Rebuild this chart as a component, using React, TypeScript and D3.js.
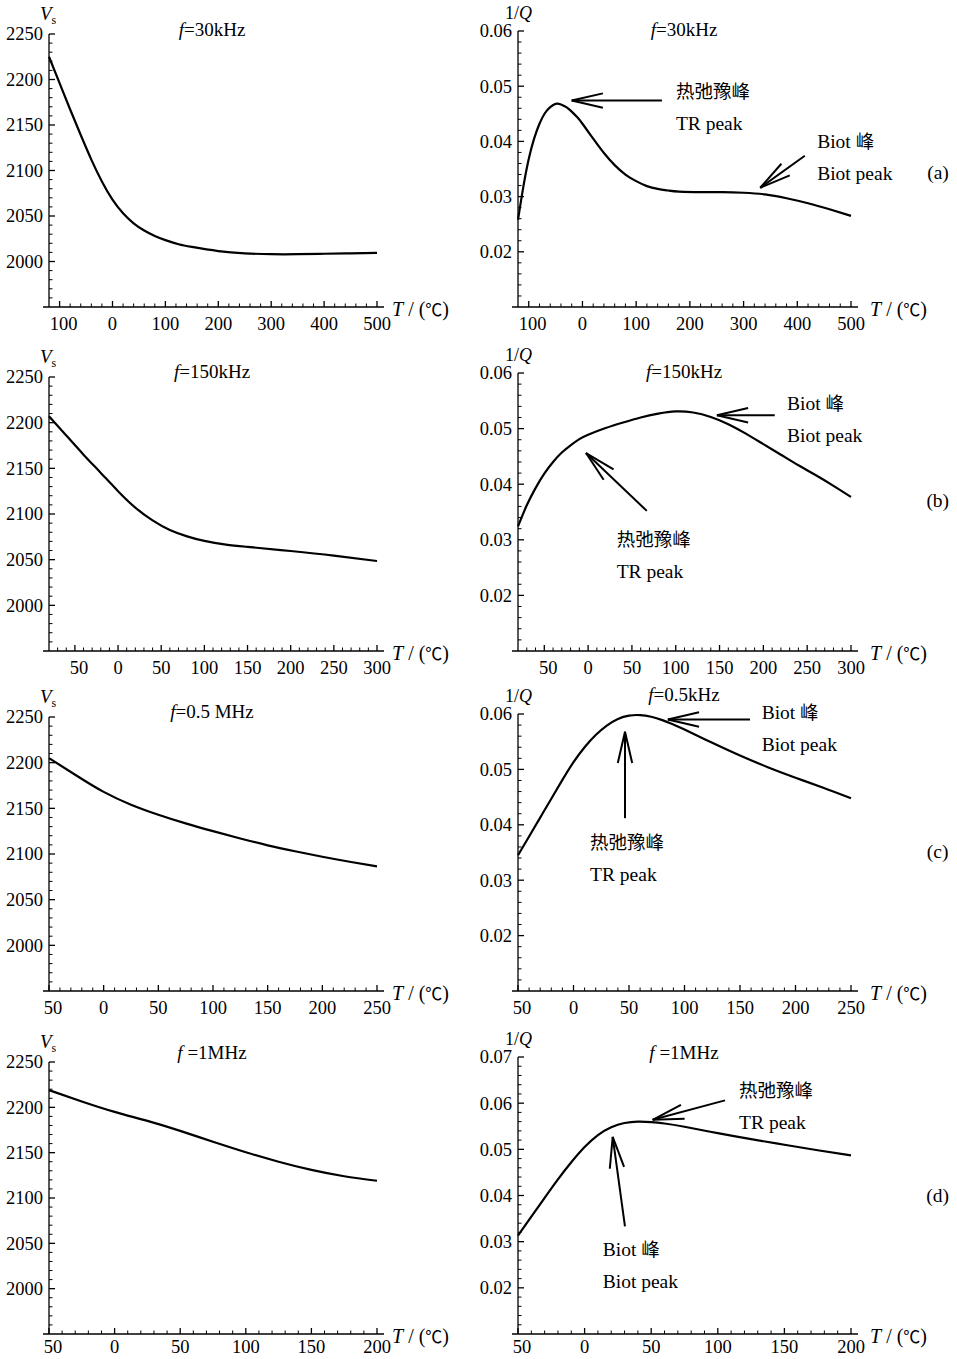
import React from 'react';
import * as d3 from 'd3';

// ---- data (temperature in °C) ----
const tempVsA = [-120, -100, -80, -60, -40, -20, 0, 20, 40, 60, 80, 100, 125, 150, 200, 250, 300, 350, 400, 450, 500];
const vsA = [2225, 2196, 2167, 2139, 2112, 2088, 2068, 2053, 2042, 2034, 2028, 2023.5, 2019, 2016, 2011.5, 2009, 2008, 2008, 2008.5, 2009, 2009.5];
const tempQA = [-120, -110, -100, -90, -80, -70, -60, -50, -40, -30, -20, -10, 0, 20, 40, 60, 80, 100, 120, 140, 160, 180, 220, 260, 300, 340, 380, 420, 460, 500];
const qA = [0.0258, 0.0318, 0.0368, 0.0405, 0.0432, 0.0451, 0.0462, 0.0468, 0.0467, 0.0462, 0.0454, 0.0444, 0.0432, 0.0405, 0.0379, 0.0357, 0.034, 0.0328, 0.0319, 0.0314, 0.0311, 0.0309, 0.0308, 0.0308, 0.0307, 0.0304, 0.0297, 0.0288, 0.0277, 0.0265];

const tempVsB = [-80, -60, -40, -20, 0, 20, 40, 60, 80, 100, 125, 150, 200, 250, 300];
const vsB = [2207, 2186, 2165, 2145, 2125, 2107, 2093, 2082.5, 2075.5, 2070.5, 2066.5, 2064, 2059.5, 2054.5, 2048.5];
const tempQB = [-80, -70, -60, -50, -40, -30, -20, -10, 0, 20, 40, 60, 80, 100, 120, 140, 160, 180, 200, 220, 240, 260, 280, 300];
const qB = [0.0324, 0.0362, 0.0393, 0.0419, 0.044, 0.0457, 0.047, 0.0481, 0.0489, 0.0501, 0.0511, 0.052, 0.0527, 0.0531, 0.0529, 0.0521, 0.0508, 0.0491, 0.0472, 0.0453, 0.0434, 0.0416, 0.0397, 0.0377];

const tempVsC = [-50, -25, 0, 25, 50, 75, 100, 125, 150, 175, 200, 225, 250];
const vsC = [2205, 2186, 2168, 2154, 2143, 2133.5, 2125, 2117, 2109.5, 2103, 2097, 2091.5, 2086.5];
const tempQC = [-50, -40, -30, -20, -10, 0, 10, 20, 30, 40, 50, 60, 70, 80, 90, 100, 125, 150, 175, 200, 225, 250];
const qC = [0.0345, 0.0379, 0.0413, 0.0447, 0.0481, 0.0513, 0.054, 0.0562, 0.0579, 0.0591, 0.0597, 0.0598, 0.0595, 0.0589, 0.0581, 0.0572, 0.0548, 0.0525, 0.0504, 0.0485, 0.0467, 0.0448];

const tempVsD = [-50, -25, 0, 25, 50, 75, 100, 125, 150, 175, 200];
const vsD = [2219, 2206.5, 2195, 2185, 2174, 2162, 2150.5, 2140, 2131, 2124, 2119];
const tempQD = [-50, -40, -30, -20, -10, 0, 10, 20, 30, 40, 50, 60, 75, 100, 125, 150, 175, 200];
const qD = [0.0313, 0.0354, 0.0395, 0.0435, 0.0472, 0.0505, 0.0531, 0.0548, 0.0557, 0.056, 0.0559, 0.0556, 0.0549, 0.0535, 0.0522, 0.051, 0.0498, 0.0487];

// ---- ticks ----
const tTicksA = [-100, 0, 100, 200, 300, 400, 500];
const tLabelsA = ['100', '0', '100', '200', '300', '400', '500'];
const tTicksB = [-50, 0, 50, 100, 150, 200, 250, 300];
const tLabelsB = ['50', '0', '50', '100', '150', '200', '250', '300'];
const tTicksC = [-50, 0, 50, 100, 150, 200, 250];
const tLabelsC = ['50', '0', '50', '100', '150', '200', '250'];
const tTicksD = [-50, 0, 50, 100, 150, 200];
const tLabelsD = ['50', '0', '50', '100', '150', '200'];
const vsTicks = [2000, 2050, 2100, 2150, 2200, 2250];
const vsLabels = ['2000', '2050', '2100', '2150', '2200', '2250'];
const qTicks = [0.02, 0.03, 0.04, 0.05, 0.06];
const qLabels = ['0.02', '0.03', '0.04', '0.05', '0.06'];
const qTicksD = [0.02, 0.03, 0.04, 0.05, 0.06, 0.07];
const qLabelsD = ['0.02', '0.03', '0.04', '0.05', '0.06', '0.07'];

const titlesL = ['f=30kHz', 'f=150kHz', 'f=0.5 MHz', 'f =1MHz'];
const titlesR = ['f=30kHz', 'f=150kHz', 'f=0.5kHz', 'f =1MHz'];
const tags = ['(a)', '(b)', '(c)', '(d)'];

type Pt = [number, number];
type Note = { text: string[]; at: Pt; from: Pt; to: Pt };

// annotations in data coordinates (T, 1/Q)
const notesA: Note[] = [
  { text: ['热弛豫峰', 'TR peak'], at: [174, 0.0491], from: [148, 0.0474], to: [-20, 0.0474] },
  { text: ['Biot 峰', 'Biot peak'], at: [437, 0.04], from: [414, 0.0374], to: [331, 0.0316] },
];
const notesB: Note[] = [
  { text: ['Biot 峰', 'Biot peak'], at: [227, 0.0546], from: [213, 0.0524], to: [147, 0.0524] },
  { text: ['热弛豫峰', 'TR peak'], at: [32.6, 0.0301], from: [67, 0.0352], to: [-2.4, 0.0456] },
];
const notesC: Note[] = [
  { text: ['Biot 峰', 'Biot peak'], at: [169.5, 0.0603], from: [159, 0.059], to: [85, 0.059] },
  { text: ['热弛豫峰', 'TR peak'], at: [14.9, 0.0369], from: [46.4, 0.0412], to: [46.4, 0.0568] },
];
const notesD: Note[] = [
  { text: ['热弛豫峰', 'TR peak'], at: [116, 0.0628], from: [105.4, 0.0606], to: [51.1, 0.0564] },
  { text: ['Biot 峰', 'Biot peak'], at: [13.6, 0.0284], from: [30.3, 0.0333], to: [21.1, 0.0527] },
];
const tagAt: Pt[] = [[662, 0.0345], [399, 0.0372], [328, 0.0353], [265, 0.04]];

const SERIF = "'Liberation Serif', 'Times New Roman', serif";
const CJK = "'Noto Sans CJK SC', sans-serif";

// layout of the four rows
const rows = [
  { bottom: 307, topL: 34, topR: 31, titleL: 36, titleR: 36, tickGap: 17 },
  { bottom: 651, topL: 377, topR: 373, titleL: 378, titleR: 378, tickGap: 17 },
  { bottom: 991, topL: 717, topR: 714, titleL: 718, titleR: 701, tickGap: 17 },
  { bottom: 1334, topL: 1062, topR: 1057, titleL: 1059, titleR: 1059, tickGap: 13 },
];

function mixed(s: string) {
  // latin parts in serif, CJK in sans
  const parts = s.split(/([\u4e00-\u9fff]+)/).filter((p) => p.length);
  return parts.map((p, i) =>
    /[\u4e00-\u9fff]/.test(p) ? (
      <tspan key={i} fontFamily={CJK} fontSize={18.5} fill="#000">{p}</tspan>
    ) : (
      <tspan key={i}>{p}</tspan>
    )
  );
}

function Arrow({ from, to }: { from: Pt; to: Pt }) {
  const ang = Math.atan2(from[1] - to[1], from[0] - to[0]);
  const len = 32;
  const spread = (13 * Math.PI) / 180;
  const h1 = [to[0] + len * Math.cos(ang + spread), to[1] + len * Math.sin(ang + spread)];
  const h2 = [to[0] + len * Math.cos(ang - spread), to[1] + len * Math.sin(ang - spread)];
  return (
    <g stroke="#000" strokeWidth={2} fill="none">
      <line x1={from[0]} y1={from[1]} x2={to[0]} y2={to[1]} />
      <line x1={to[0]} y1={to[1]} x2={h1[0]} y2={h1[1]} />
      <line x1={to[0]} y1={to[1]} x2={h2[0]} y2={h2[1]} />
    </g>
  );
}

type PanelProps = {
  left: number;
  right: number;
  top: number;
  bottom: number;
  xDomain: [number, number];
  yDomain: [number, number];
  xTicks: number[];
  xLabels: string[];
  xMinor: number;
  yTicks: number[];
  yLabels: string[];
  yMinor: number;
  temps: number[];
  values: number[];
  kind: 'vs' | 'q';
  title: string;
  titleX: number;
  titleY: number;
  tLabelGap: number;
  tickGap: number;
  notes?: Note[];
  tag?: string;
  tagPos?: Pt;
};

function Panel(p: PanelProps) {
  const x = d3.scaleLinear().domain(p.xDomain).range([p.left, p.right]);
  const y = d3.scaleLinear().domain(p.yDomain).range([p.bottom, p.top]);
  const path = d3
    .line<number>()
    .x((_, i) => x(p.temps[i]))
    .y((d) => y(d))
    .curve(d3.curveNatural)(p.values);

  const nx = Math.round((p.xDomain[1] - p.xDomain[0]) / p.xMinor);
  const xMinors = d3
    .range(1, nx + 1)
    .map((i) => p.xDomain[0] + i * p.xMinor)
    .filter((t) => !p.xTicks.some((m) => Math.abs(m - t) < p.xMinor / 10));
  const ny = Math.round((p.yDomain[1] - p.yDomain[0]) / p.yMinor);
  const yMinors = d3
    .range(1, ny + 1)
    .map((i) => p.yDomain[0] + i * p.yMinor)
    .filter((t) => !p.yTicks.some((m) => Math.abs(m - t) < p.yMinor / 10));

  const fmt = p.title.split('f');

  return (
    <g fontFamily={SERIF} fill="#000">
      {/* axes */}
      <g stroke="#000" strokeWidth={1.3}>
        <line x1={p.left - 6} x2={p.right + 7} y1={p.bottom} y2={p.bottom} />
        <line x1={p.left} x2={p.left} y1={p.bottom} y2={p.top} />
        {p.xTicks.map((t) => (
          <line key={'xm' + t} x1={x(t)} x2={x(t)} y1={p.bottom} y2={p.bottom - 6} />
        ))}
        {xMinors.map((t) => (
          <line key={'xn' + t} x1={x(t)} x2={x(t)} y1={p.bottom} y2={p.bottom - 3.5} strokeWidth={1} />
        ))}
        {p.yTicks.map((t) => (
          <line key={'ym' + t} x1={p.left} x2={p.left + 6} y1={y(t)} y2={y(t)} />
        ))}
        {yMinors.map((t) => (
          <line key={'yn' + t} x1={p.left} x2={p.left + 3.5} y1={y(t)} y2={y(t)} strokeWidth={1} />
        ))}
      </g>
      {/* tick labels */}
      <g fontSize={18.5}>
        {p.xTicks.map((t, i) => (
          <text key={'xl' + t} x={x(t) + (t < 0 ? 4 : 0)} y={p.bottom + p.tickGap} dy="0.35em" textAnchor="middle">
            {p.xLabels[i]}
          </text>
        ))}
        {p.yTicks.map((t, i) => (
          <text key={'yl' + t} x={p.left - 6} y={y(t)} dy="0.35em" textAnchor="end">
            {p.yLabels[i]}
          </text>
        ))}
      </g>
      {/* axis titles */}
      {p.kind === 'vs' ? (
        <text x={p.left - 9} y={p.top - 14} fontSize={19}>
          <tspan fontStyle="italic">V</tspan>
          <tspan fontSize={12} dy={4}>s</tspan>
        </text>
      ) : (
        <text x={p.left - 13} y={p.top - 12} fontSize={18}>
          1/<tspan fontStyle="italic">Q</tspan>
        </text>
      )}
      <text x={p.right + p.tLabelGap} y={p.bottom + 2} dy="0.35em" fontSize={20}>
        <tspan fontStyle="italic">T</tspan> / (<tspan fontFamily={CJK} fontSize={17}>℃</tspan>)
      </text>
      <text x={p.titleX} y={p.titleY} fontSize={19} textAnchor="middle">
        <tspan fontStyle="italic">f</tspan>
        {fmt[1]}
      </text>
      {/* curve */}
      <path d={path ?? ''} fill="none" stroke="#000" strokeWidth={2.2} />
      {/* annotations */}
      {(p.notes ?? []).map((n, i) => (
        <g key={'n' + i}>
          <Arrow from={[x(n.from[0]), y(n.from[1])]} to={[x(n.to[0]), y(n.to[1])]} />
          {n.text.map((s, j) => (
            <text key={j} x={x(n.at[0])} y={y(n.at[1]) + j * 32} dy="0.35em" fontSize={19.5}>
              {mixed(s)}
            </text>
          ))}
        </g>
      ))}
      {p.tag && p.tagPos && (
        <text x={x(p.tagPos[0])} y={y(p.tagPos[1])} dy="0.35em" fontSize={19.5} textAnchor="middle">
          {p.tag}
        </text>
      )}
    </g>
  );
}

export default function App() {
  const L = { left: 49, right: 377, titleX: 212, tLabelGap: 15 };
  const R = { left: 518, right: 851, titleX: 684, tLabelGap: 19 };
  const xs = [
    { dom: [-120, 500] as [number, number], ticks: tTicksA, labels: tLabelsA, minor: 20 },
    { dom: [-80, 300] as [number, number], ticks: tTicksB, labels: tLabelsB, minor: 10 },
    { dom: [-50, 250] as [number, number], ticks: tTicksC, labels: tLabelsC, minor: 10 },
    { dom: [-50, 200] as [number, number], ticks: tTicksD, labels: tLabelsD, minor: 10 },
  ];
  const vsSeries = [
    [tempVsA, vsA],
    [tempVsB, vsB],
    [tempVsC, vsC],
    [tempVsD, vsD],
  ];
  const qSeries = [
    [tempQA, qA],
    [tempQB, qB],
    [tempQC, qC],
    [tempQD, qD],
  ];
  const notes = [notesA, notesB, notesC, notesD];

  return (
    <svg
      width={957}
      height={1359}
      style={{ position: 'absolute', left: 0, top: 0, background: '#fff' }}
    >
      <rect width={957} height={1359} fill="#fff" />
      {rows.map((r, i) => (
        <g key={i}>
          <Panel
            {...L}
            top={r.topL}
            bottom={r.bottom}
            tickGap={r.tickGap}
            xDomain={xs[i].dom}
            yDomain={[1950, 2250]}
            xTicks={xs[i].ticks}
            xLabels={xs[i].labels}
            xMinor={xs[i].minor}
            yTicks={vsTicks}
            yLabels={vsLabels}
            yMinor={10}
            temps={vsSeries[i][0]}
            values={vsSeries[i][1]}
            kind="vs"
            title={titlesL[i]}
            titleY={r.titleL}
          />
          <Panel
            {...R}
            top={r.topR}
            bottom={r.bottom}
            tickGap={r.tickGap}
            xDomain={xs[i].dom}
            yDomain={i === 3 ? [0.01, 0.07] : [0.01, 0.06]}
            xTicks={xs[i].ticks}
            xLabels={xs[i].labels}
            xMinor={xs[i].minor}
            yTicks={i === 3 ? qTicksD : qTicks}
            yLabels={i === 3 ? qLabelsD : qLabels}
            yMinor={0.002}
            temps={qSeries[i][0]}
            values={qSeries[i][1]}
            kind="q"
            title={titlesR[i]}
            titleY={r.titleR}
            notes={notes[i]}
            tag={tags[i]}
            tagPos={tagAt[i]}
          />
        </g>
      ))}
    </svg>
  );
}
